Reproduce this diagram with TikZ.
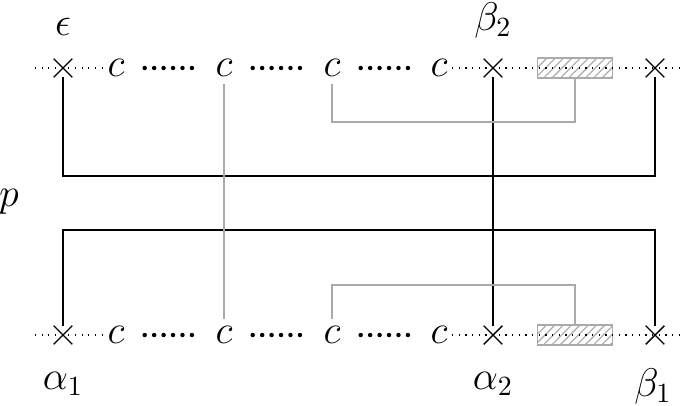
\documentclass[tikz,border=0pt]{standalone}
\usepackage{amsmath, amssymb}
\usetikzlibrary{patterns, shapes.misc}
\definecolor{wireGray}{RGB}{170, 170, 170}

\begin{document}
\begin{tikzpicture}[x=0.36pt, y=-0.36pt,
    xmark/.style={draw, cross out, minimum size=6.2pt, inner sep=0pt, line width=0.5pt},
    cnode/.style={font=\Large, inner xsep=1.5pt, inner ysep=2.5pt},
    lbl/.style={font=\Large},
    hbox/.style={draw=wireGray, line width=0.6pt, pattern=north east lines, pattern color=wireGray,
                 minimum width=27pt, minimum height=7.4pt, inner sep=0pt},
    wire/.style={line width=0.7pt},
    gwire/.style={wireGray, line width=0.7pt},
    bigdots/.style={line width=1.6pt, line cap=round, dash pattern=on 0pt off 3.4pt,
                    shorten <=5.6pt, shorten >=5.3pt}]
      \useasboundingbox (0,0) rectangle (685,405);

      % Top row
      \node[xmark] (ta) at (63,68) {};
      \foreach \x/\n in {116/1, 224/2, 332/3, 439/4}
        \node[cnode] (tc\n) at (\x,68) {$c$};
      \node[xmark] (tb) at (493,68) {};
      \node[hbox] (tbox) at (575,68) {};
      \node[xmark] (te) at (655,68) {};

      % Bottom row
      \node[xmark] (ba) at (63,335) {};
      \foreach \x/\n in {116/1, 224/2, 332/3, 439/4}
        \node[cnode] (bc\n) at (\x,335) {$c$};
      \node[xmark] (bb) at (493,335) {};
      \node[hbox] (bbox) at (575,335) {};
      \node[xmark] (be) at (655,335) {};

      % Dotted lines
      \foreach \r in {t, b} {
        \draw[dotted] (35,0 |- \r a) -- (\r c1);
        \draw[dotted] (\r c4) -- (685,0 |- \r a);
        \foreach \a/\b in {1/2, 2/3, 3/4}
          \draw[bigdots] (\r c\a) -- (\r c\b);
      }

      % Labels
      \node[lbl] (eps) at (63,27) {$\epsilon$};
      \node[lbl] (lb2) at (493,20) {$\beta_2$};
      \node[lbl] (la1) at (63,384) {$\alpha_1$};
      \node[lbl] (la2) at (493,384) {$\alpha_2$};
      \node[lbl] (lb1) at (653,386) {$\beta_1$};
      \node[lbl] (lp) at (9,202) {$p$};

      % Black wires
      \draw[wire] (ta) -- (ta |- 0,176) -| (te);
      \draw[wire] (ba) -- (ba |- 0,230) -| (be);
      \draw[wire] (tb) -- (bb);

      % Gray wires
      \draw[gwire] (tc2) -- (bc2);
      \draw[gwire] (tc3) -- (tc3 |- 0,122) -| (tbox);
      \draw[gwire] (bc3) -- (bc3 |- 0,285) -| (bbox);
    \end{tikzpicture}
\end{document}
